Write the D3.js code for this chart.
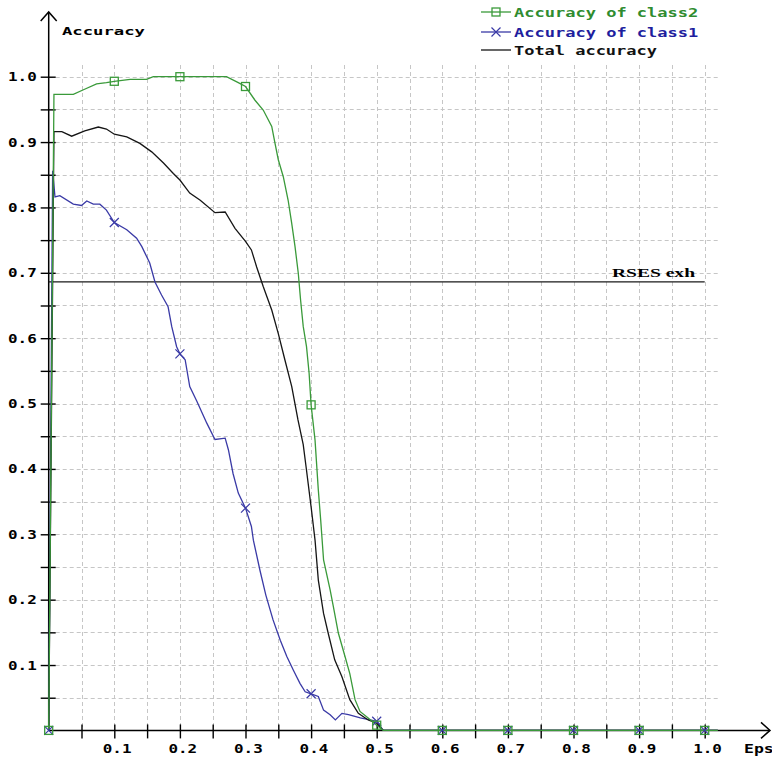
<!DOCTYPE html>
<html><head><meta charset="utf-8">
<script src="https://cdn.jsdelivr.net/npm/d3@7/dist/d3.min.js"></script>
<style>html,body{margin:0;padding:0;background:#fff;} svg{display:block;}</style>
</head><body><svg id="chart" width="772" height="759"></svg>
<script>
// ---------- data (eps, accuracy) ----------
const class2 = [[0,0],[0.008,0.973],[0.0375,0.973],[0.053,0.98],[0.073,0.989],[0.088,0.991],[0.1,0.993],
  [0.124,0.996],[0.149,0.996],[0.1595,1.0],[0.2,1.0],[0.271,1.0],[0.289,0.991],[0.3,0.985],[0.3145,0.964],
  [0.327,0.949],[0.34,0.924],[0.345,0.898],[0.35,0.873],[0.3576,0.847],[0.365,0.811],[0.3704,0.776],
  [0.3755,0.74],[0.3805,0.699],[0.384,0.658],[0.388,0.618],[0.393,0.587],[0.397,0.546],[0.4,0.498],
  [0.406,0.444],[0.411,0.368],[0.4146,0.322],[0.419,0.261],[0.429,0.215],[0.434,0.189],[0.4415,0.149],
  [0.4517,0.113],[0.459,0.087],[0.467,0.047],[0.4745,0.029],[0.487,0.019],[0.5,0.008],[0.51,0],
  [0.6,0],[0.7,0],[0.8,0],[0.9,0],[1.0,0],[1.02,0]];
const class1 = [[0,0],[0.006,0.856],[0.0096,0.816],[0.017,0.818],[0.0375,0.805],[0.05,0.803],[0.058,0.81],
  [0.068,0.805],[0.078,0.805],[0.088,0.796],[0.1,0.777],[0.119,0.766],[0.134,0.753],[0.142,0.74],
  [0.154,0.715],[0.162,0.686],[0.172,0.666],[0.182,0.648],[0.1875,0.618],[0.195,0.587],[0.2,0.576],
  [0.208,0.567],[0.215,0.526],[0.226,0.503],[0.241,0.47],[0.2535,0.445],[0.269,0.447],[0.274,0.429],
  [0.281,0.393],[0.289,0.363],[0.3,0.34],[0.309,0.312],[0.312,0.291],[0.322,0.245],[0.331,0.207],
  [0.342,0.169],[0.353,0.138],[0.363,0.113],[0.373,0.092],[0.383,0.072],[0.391,0.059],[0.4,0.056],
  [0.411,0.052],[0.419,0.031],[0.429,0.024],[0.437,0.016],[0.447,0.026],[0.457,0.024],[0.475,0.019],
  [0.49,0.016],[0.5,0.014],[0.51,0],[0.6,0],[0.7,0],[0.8,0],[0.9,0],[1.0,0],[1.02,0]];
const total = [[0,0],[0.008,0.916],[0.02,0.916],[0.035,0.909],[0.055,0.917],[0.0756,0.923],[0.088,0.92],
  [0.1,0.912],[0.119,0.908],[0.139,0.898],[0.157,0.885],[0.175,0.868],[0.19,0.852],[0.2,0.842],
  [0.215,0.822],[0.231,0.811],[0.2535,0.792],[0.269,0.793],[0.284,0.768],[0.3,0.748],[0.309,0.735],
  [0.317,0.709],[0.327,0.679],[0.34,0.643],[0.35,0.607],[0.36,0.567],[0.3705,0.526],[0.38,0.475],
  [0.388,0.437],[0.393,0.398],[0.4,0.342],[0.406,0.291],[0.411,0.23],[0.419,0.179],[0.426,0.149],
  [0.436,0.108],[0.447,0.082],[0.459,0.047],[0.472,0.026],[0.487,0.016],[0.5,0.011],[0.51,0],
  [0.6,0],[0.7,0],[0.8,0],[0.9,0],[1.0,0],[1.02,0]];
const rsesExh = 0.686;
const rsesLabel = "RSES exh";
const gridValues = d3.range(1, 21).map(i => i / 20);
const tickLabels = ["0.1","0.2","0.3","0.4","0.5","0.6","0.7","0.8","0.9","1.0"];
const legendNames = ["Accuracy of class2", "Accuracy of class1", "Total accuracy"];
const xTitle = "Eps", yTitle = "Accuracy";

// ---------- layout / style ----------
const X0 = 48.7, X1 = 704.7, Y0 = 730.4, Y1 = 76.7;
const C2 = "#3a9a3a", C1 = "#3a3aa6", CT = "#151515";
const C2text = "#2f8c2f", C1text = "#1e1e9e";
const mono = "'DejaVu Sans Mono', 'Liberation Mono', monospace";
const x = d3.scaleLinear().domain([0, 1]).range([X0, X1]);
const y = d3.scaleLinear().domain([0, 1]).range([Y0, Y1]);
const svg = d3.select("#chart");
svg.append("rect").attr("width", 772).attr("height", 759).attr("fill", "#fff");

// grid
const grid = svg.append("g").attr("stroke", "#c6c6c6").attr("stroke-width", 1).attr("stroke-dasharray", "4,3");
grid.selectAll("line.v").data(gridValues).join("line").attr("class", "v")
  .attr("x1", d => Math.round(x(d)) + 0.5).attr("x2", d => Math.round(x(d)) + 0.5)
  .attr("y1", 65).attr("y2", Y0);
grid.selectAll("line.h").data(gridValues).join("line").attr("class", "h")
  .attr("y1", d => Math.round(y(d)) + 0.5).attr("y2", d => Math.round(y(d)) + 0.5)
  .attr("x1", X0).attr("x2", x(1.02));

// axes (D3 axes, ticks crossing the axis line)
const fmtTick = d => (Math.abs(d * 10 - Math.round(d * 10)) < 1e-6) ? tickLabels[Math.round(d * 10) - 1] : "";
const yAxis = svg.append("g").attr("transform", `translate(${X0},0)`)
  .call(d3.axisLeft(y).tickValues(gridValues).tickSizeInner(8).tickSizeOuter(0).tickFormat(""));
yAxis.select(".domain").remove();
yAxis.selectAll(".tick line").attr("x1", -8).attr("x2", 7).attr("stroke", "#000").attr("stroke-width", 1.4);
const xAxis = svg.append("g").attr("transform", `translate(0,${Y0})`)
  .call(d3.axisBottom(x).tickValues(gridValues).tickSizeInner(7).tickSizeOuter(0).tickFormat(""));
xAxis.select(".domain").remove();
xAxis.selectAll(".tick line").attr("y1", -6).attr("y2", 8).attr("stroke", "#000").attr("stroke-width", 1.4);

// tick labels
const pitch = 10.25;
const labTicks = gridValues.filter(d => fmtTick(d) !== "");
svg.append("g").selectAll("text").data(labTicks).join("text")
  .attr("x", 8).attr("y", d => y(d) + 4.5)
  .attr("font-family", mono).attr("font-weight", "bold").attr("font-size", 12)
  .attr("textLength", 3 * pitch - 2).attr("lengthAdjust", "spacingAndGlyphs")
  .text(fmtTick);
svg.append("g").selectAll("text").data(labTicks).join("text")
  .attr("x", d => x(d) - 11.5).attr("y", 753)
  .attr("font-family", mono).attr("font-weight", "bold").attr("font-size", 12)
  .attr("textLength", 3 * pitch - 2).attr("lengthAdjust", "spacingAndGlyphs")
  .text(fmtTick);

// axis lines + arrows
const ax = svg.append("g").attr("stroke", "#000").attr("stroke-width", 1.5).attr("fill", "none");
ax.append("line").attr("x1", X0).attr("x2", X0).attr("y1", Y0).attr("y2", 12);
ax.append("line").attr("x1", X0).attr("x2", 770).attr("y1", Y0).attr("y2", Y0);
ax.append("path").attr("d", `M${X0 - 8},21 L${X0},12 L${X0 + 8},21`);
ax.append("path").attr("d", `M761,${Y0 - 8} L770,${Y0} L761,${Y0 + 8}`);

// axis titles
svg.append("text").attr("x", 744).attr("y", 753).attr("font-family", mono).attr("font-weight", "bold")
  .attr("font-size", 12).attr("textLength", 3 * pitch - 1).attr("lengthAdjust", "spacingAndGlyphs").text(xTitle);
svg.append("text").attr("x", 62).attr("y", 35).attr("font-family", mono).attr("font-weight", "bold")
  .attr("font-size", 11).attr("textLength", 83).attr("lengthAdjust", "spacingAndGlyphs").text(yTitle);

// RSES exh reference line
svg.append("line").attr("x1", X0).attr("x2", x(1)).attr("y1", y(rsesExh)).attr("y2", y(rsesExh))
  .attr("stroke", "#1a1a1a").attr("stroke-width", 1.3);
svg.append("text").attr("x", 612).attr("y", y(rsesExh) - 5).attr("font-family", "'Liberation Serif', serif")
  .attr("font-weight", "bold").attr("font-size", 13).attr("textLength", 83).attr("lengthAdjust", "spacingAndGlyphs")
  .text(rsesLabel);

// series lines
const line = d3.line().x(d => x(d[0])).y(d => y(d[1]));
const isTenth = d => d[0] <= 1.0001 && Math.abs(d[0] * 10 - Math.round(d[0] * 10)) < 1e-6;
svg.append("path").datum(class1).attr("d", line).attr("fill", "none").attr("stroke", C1).attr("stroke-width", 1.3);
svg.append("path").datum(total).attr("d", line).attr("fill", "none").attr("stroke", CT).attr("stroke-width", 1.3);
svg.append("path").datum(class2).attr("d", line).attr("fill", "none").attr("stroke", C2).attr("stroke-width", 1.3);

// markers
const drawX = (g, cx, cy, col) => g.append("path").attr("d", `M${cx - 4.5},${cy - 4.5}L${cx + 4.5},${cy + 4.5}M${cx - 4.5},${cy + 4.5}L${cx + 4.5},${cy - 4.5}`)
  .attr("stroke", col).attr("stroke-width", 1.2).attr("fill", "none");
const drawSq = (g, cx, cy, col) => g.append("rect").attr("x", cx - 4).attr("y", cy - 4).attr("width", 8).attr("height", 8)
  .attr("stroke", col).attr("stroke-width", 1.3).attr("fill", "none");
const mk = svg.append("g");
class1.filter(isTenth).forEach(d => drawX(mk, x(d[0]), y(d[1]), C1));
class2.filter(isTenth).forEach(d => drawSq(mk, x(d[0]), y(d[1]), C2));

// legend
const lg = svg.append("g");
const legRows = [{name: legendNames[0], col: C2, tcol: C2text, yy: 12, m: "sq"},
                 {name: legendNames[1], col: C1, tcol: C1text, yy: 32, m: "x"},
                 {name: legendNames[2], col: CT, tcol: "#111", yy: 50, m: ""}];
legRows.forEach(r => {
  lg.append("line").attr("x1", 481).attr("x2", 511).attr("y1", r.yy).attr("y2", r.yy).attr("stroke", r.col).attr("stroke-width", 1.3);
  if (r.m === "sq") drawSq(lg, 496, r.yy, r.col);
  if (r.m === "x") drawX(lg, 496, r.yy, r.col);
  lg.append("text").attr("x", 514).attr("y", r.yy + 4.5).attr("font-family", mono).attr("font-weight", "bold")
    .attr("font-size", 12).attr("fill", r.tcol)
    .attr("textLength", r.name.length * 10.35 - 2).attr("lengthAdjust", "spacingAndGlyphs").text(r.name);
});
</script>
</body></html>
